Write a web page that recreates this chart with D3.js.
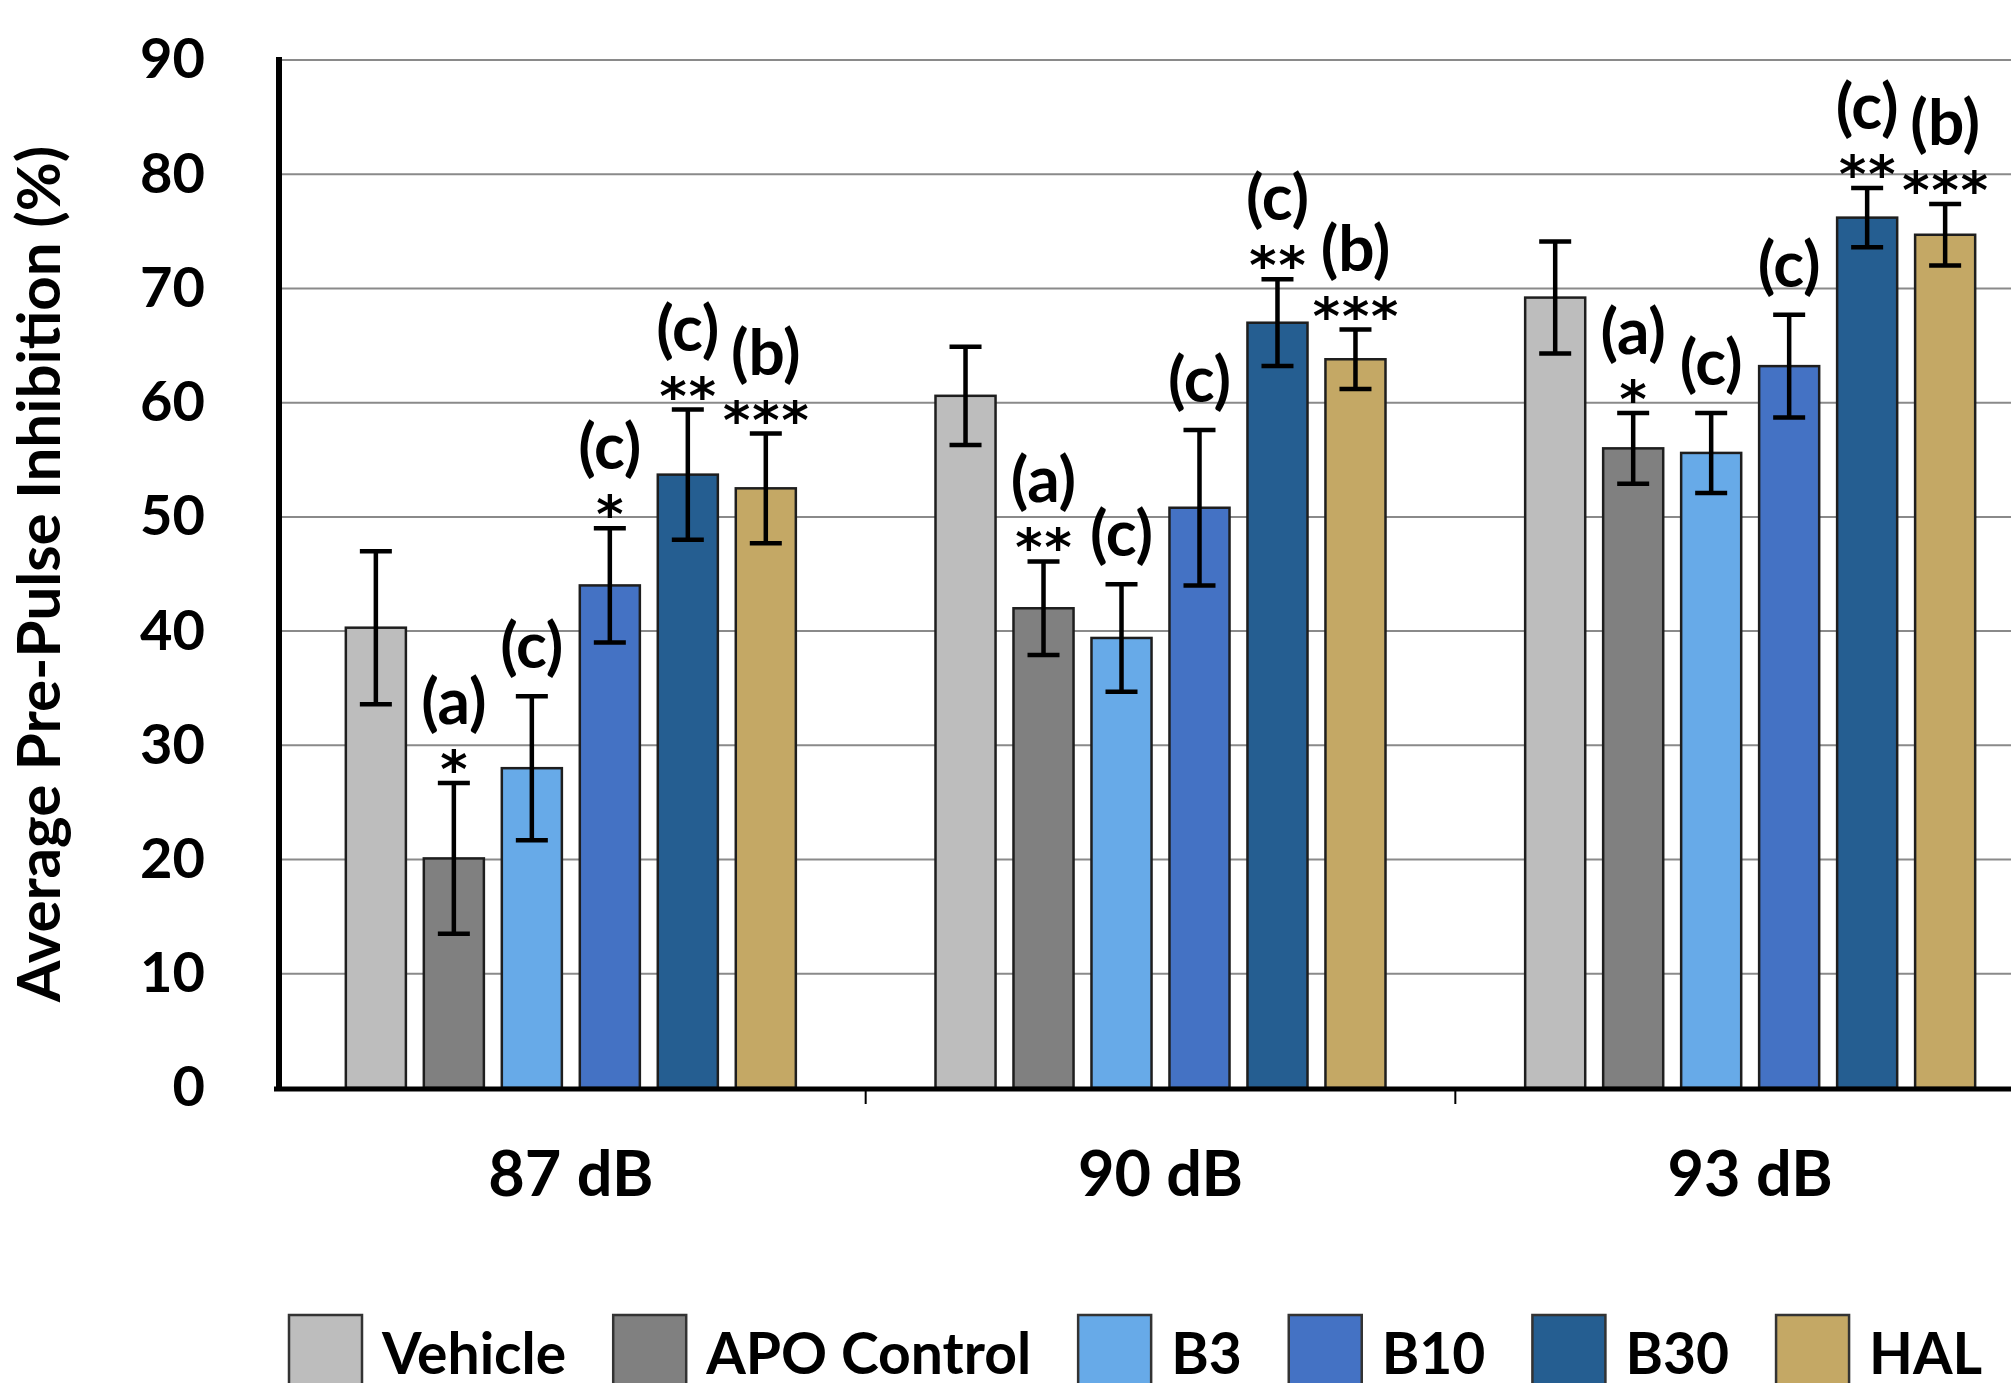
<!DOCTYPE html>
<html>
<head>
<meta charset="utf-8">
<script src="https://cdn.jsdelivr.net/npm/d3@7"></script>
<style>
  body { margin: 0; background: #fff; }
  svg { display: block; font-family: Lato, "Open Sans", sans-serif; font-weight: 700; }
</style>
</head>
<body>
<script>
var width = 2011
var height = 1383

// chart data
var groups = ["87 dB", "90 dB", "93 dB"]
var series = ["Vehicle", "APO Control", "B3", "B10", "B30", "HAL"]
var colors = ["#bdbdbd", "#808080", "#67aae8", "#4472c4", "#255e91", "#c4a865"]

var mean87 = [40.3, 20.1, 28.0, 44.0, 53.7, 52.5]
var mean90 = [60.6, 42.0, 39.4, 50.8, 67.0, 63.8]
var mean93 = [69.2, 56.0, 55.6, 63.2, 76.2, 74.7]
var err87 = [6.7, 6.6, 6.3, 5.0, 5.7, 4.8]
var err90 = [4.3, 4.1, 4.7, 6.8, 3.8, 2.6]
var err93 = [4.9, 3.1, 3.5, 4.5, 2.6, 2.7]

var letters = ["", "(a)", "(c)", "(c)", "(c)", "(b)"]
var stars87 = ["", "*", "", "*", "**", "***"]
var stars90 = ["", "**", "", "", "**", "***"]
var stars93 = ["", "*", "", "", "**", "***"]

var yTicks = [0, 10, 20, 30, 40, 50, 60, 70, 80, 90]

var means = [mean87, mean90, mean93]
var errs = [err87, err90, err93]
var stars = [stars87, stars90, stars93]

var rows = []
groups.forEach((g, gi) => {
  series.forEach((s, si) => {
    rows.push({
      group: g, series: s, color: colors[si],
      value: means[gi][si], err: errs[gi][si],
      letter: letters[si], star: stars[gi][si]
    })
  })
})

// layout
var axisX = 279
var plotRight = width
var y = d3.scaleLinear().domain([0, 90]).range([1088, 60])
var x0 = d3.scaleBand().domain(groups).range([276, 2045])
var x1 = d3.scaleBand().domain(series).range([-225, 225]).paddingInner(0.23)

const svg = d3.select("body").append("svg")
  .attr("width", width).attr("height", height)
  .attr("viewBox", [0, 0, width, height])

// gridlines
svg.append("g")
  .selectAll("line")
  .data(yTicks.filter(d => d > 0))
  .join("line")
  .attr("x1", axisX).attr("x2", plotRight)
  .attr("y1", d => y(d)).attr("y2", d => y(d))
  .attr("stroke", "#8a8a8a").attr("stroke-width", 2)

// y tick labels
const yAxis = svg.append("g")
  .attr("transform", `translate(${axisX},0)`)
  .call(d3.axisLeft(y).tickValues(yTicks).tickSize(0).tickPadding(74))
yAxis.select(".domain").remove()
yAxis.selectAll("text")
  .attr("font-family", "Lato, sans-serif")
  .attr("font-weight", 700)
  .attr("font-size", 56)
  .attr("fill", "#000")

// y title
svg.append("text")
  .attr("transform", "translate(60,574) rotate(-90)")
  .attr("text-anchor", "middle")
  .attr("font-size", 60)
  .text("Average Pre-Pulse Inhibition (%)")

// bars
const bar = svg.append("g")
  .selectAll("g")
  .data(rows)
  .join("g")
  .attr("transform", d => `translate(${x0(d.group) + x0.bandwidth() / 2 + x1(d.series)},0)`)

bar.append("rect")
  .attr("x", 0)
  .attr("width", x1.bandwidth())
  .attr("y", d => y(d.value))
  .attr("height", d => y(0) - y(d.value))
  .attr("fill", d => d.color)
  .attr("stroke", "#1e1e1e")
  .attr("stroke-width", 2.5)

// error bars
var cx = x1.bandwidth() / 2
var cap = 16
bar.append("path")
  .attr("d", d => {
    var t = y(d.value + d.err), b = y(d.value - d.err)
    return `M${cx},${t}V${b}M${cx - cap},${t}H${cx + cap}M${cx - cap},${b}H${cx + cap}`
  })
  .attr("fill", "none")
  .attr("stroke", "#000")
  .attr("stroke-width", 4.5)

// significance marks
bar.filter(d => d.star).append("text")
  .attr("x", cx + 1)
  .attr("y", d => y(d.value + d.err) + 4)
  .attr("text-anchor", "middle")
  .attr("font-family", "'DejaVu Sans', sans-serif")
  .attr("font-size", 52)
  .attr("letter-spacing", 2)
  .text(d => d.star)

bar.filter(d => d.letter).append("text")
  .attr("x", cx)
  .attr("y", d => y(d.value + d.err) - (d.star ? 59 : 28))
  .attr("text-anchor", "middle")
  .attr("font-size", 64)
  .text(d => d.letter)

// axes lines
svg.append("line")
  .attr("x1", 274).attr("x2", plotRight)
  .attr("y1", y(0) + 1).attr("y2", y(0) + 1)
  .attr("stroke", "#000").attr("stroke-width", 5)
svg.append("line")
  .attr("x1", axisX).attr("x2", axisX)
  .attr("y1", 57).attr("y2", y(0) + 3)
  .attr("stroke", "#000").attr("stroke-width", 6)

// category ticks at band boundaries
svg.append("g")
  .selectAll("line")
  .data(groups.slice(1))
  .join("line")
  .attr("x1", d => x0(d)).attr("x2", d => x0(d))
  .attr("y1", y(0)).attr("y2", y(0) + 16)
  .attr("stroke", "#000").attr("stroke-width", 2)

// category labels
svg.append("g")
  .selectAll("text")
  .data(groups)
  .join("text")
  .attr("x", d => x0(d) + x0.bandwidth() / 2)
  .attr("y", 1196)
  .attr("text-anchor", "middle")
  .attr("font-size", 63)
  .text(d => d)

// legend
const legend = svg.append("g")
var lx = 289
series.forEach((s, i) => {
  legend.append("rect")
    .attr("x", lx).attr("y", 1315)
    .attr("width", 73).attr("height", 90)
    .attr("fill", colors[i])
    .attr("stroke", "#333").attr("stroke-width", 2.5)
  const t = legend.append("text")
    .attr("x", lx + 93).attr("y", 1374)
    .attr("font-size", 57)
    .text(s)
  lx += 93 + t.node().getComputedTextLength() + 47
})
</script>
</body>
</html>
